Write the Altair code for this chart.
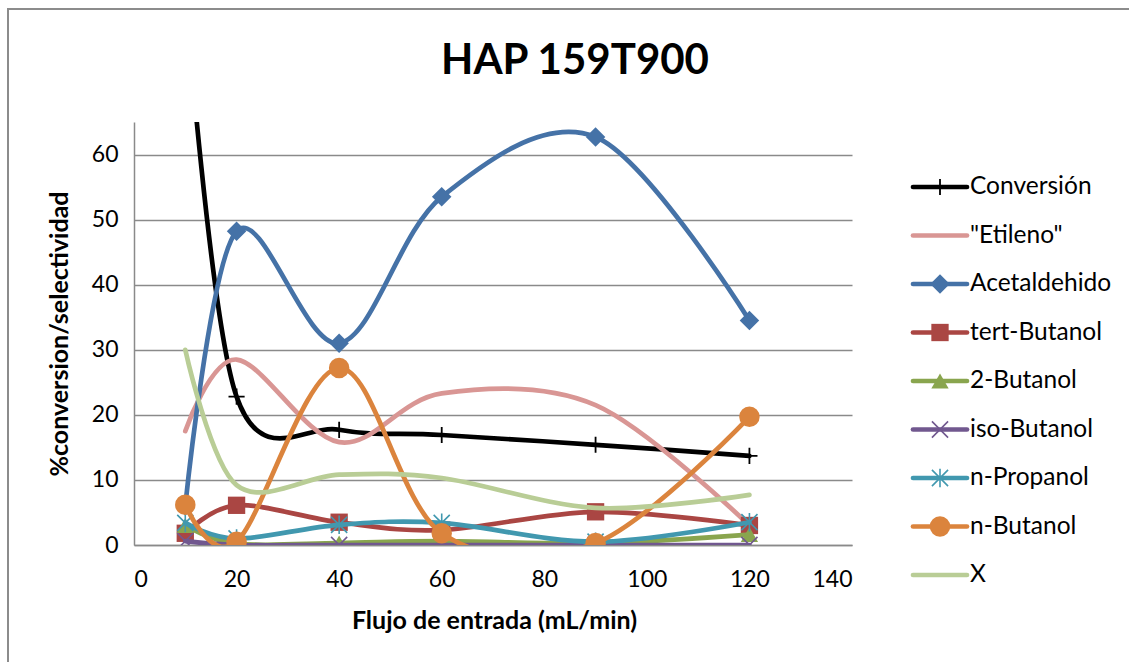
import altair as alt
import pandas as pd

# Inlet flow (mL/min) at which each sample was taken
flow = [10, 20, 40, 60, 90, 120]

series_names = [
    "Conversión", '"Etileno"', "Acetaldehido", "tert-Butanol", "2-Butanol",
    "iso-Butanol", "n-Propanol", "n-Butanol", "X",
]

# %conversion / selectivity per series
conversion = [85.0, 22.8, 17.7, 16.9, 15.4, 13.7]
etileno = [17.5, 28.5, 15.8, 23.3, 21.5, 3.0]
acetaldehido = [6.0, 48.2, 31.0, 53.5, 62.7, 34.5]
tert_butanol = [1.8, 6.1, 3.5, 2.3, 5.1, 3.0]
butanol_2 = [3.0, 0.2, 0.3, 0.6, 0.3, 1.6]
iso_butanol = [0.6, 0.0, 0.0, 0.0, 0.0, 0.0]
n_propanol = [3.4, 1.0, 3.1, 3.4, 0.5, 3.5]
n_butanol = [6.2, 0.5, 27.2, 1.8, 0.3, 19.7]
x_unknown = [30.0, 9.2, 10.8, 10.3, 5.7, 7.7]

values = [conversion, etileno, acetaldehido, tert_butanol, butanol_2,
          iso_butanol, n_propanol, n_butanol, x_unknown]

colors = ["#000000", "#D99694", "#4572A7", "#AA4643", "#89A54E",
          "#71588F", "#4198AF", "#DB843D", "#B9CD96"]

x_ticks = [0, 20, 40, 60, 80, 100, 120, 140]
y_ticks = [0, 10, 20, 30, 40, 50, 60]

# stroked marker outlines (unit box -1..1)
PLUS = "M-1,0H1M0,-1V1"
CROSS = "M-1,-1L1,1M-1,1L1,-1"
ASTERISK = "M-1,-1L1,1M-1,1L1,-1M0,-1.15V1.15"

# (shape, filled, size, strokeWidth) for each series; None = no marker
markers = [
    (PLUS, False, 260, 1.8),
    None,
    ("diamond", True, 380, 0),
    ("square", True, 300, 0),
    ("triangle-up", True, 300, 0),
    (CROSS, False, 260, 1.6),
    (ASTERISK, False, 260, 1.6),
    ("circle", True, 420, 0),
    None,
]

FONT = "Lato"
GRID = "#8A8A8A"
W, H = 718, 423
LEFT, TOP = 134, 122

x_enc = alt.X(
    "flow:Q",
    scale=alt.Scale(domain=[0, 140], nice=False, zero=False),
    axis=alt.Axis(
        values=x_ticks, grid=False, ticks=False, title="Flujo de entrada (mL/min)",
        titleX=W / 2 + 1, titleY=75, titleBaseline="middle", titleAlign="center",
        labelPadding=23,
    ),
)
y_enc = alt.Y(
    "value:Q",
    scale=alt.Scale(domain=[0, 65], nice=False),
    axis=alt.Axis(
        values=y_ticks, grid=True, ticks=False, title="%conversion/selectividad",
        titleX=-75, titleY=H / 2, titleAngle=270, titleBaseline="middle",
        titleAlign="center", labelPadding=16,
    ),
)

layers = []
for name, vals, color, mk in zip(series_names, values, colors, markers):
    df = pd.DataFrame({"flow": flow, "value": vals, "serie": name})
    base = alt.Chart(df).encode(x=x_enc, y=y_enc)
    layers.append(
        base.mark_line(interpolate="cardinal", strokeWidth=4.7, color=color,
                       clip=True, strokeCap="round", strokeJoin="round")
    )
    if mk is not None:
        shape, filled, size, sw = mk
        if filled:
            pt = base.mark_point(shape=shape, filled=True, size=size, color=color,
                                 opacity=1, clip=True)
        else:
            pt = base.mark_point(shape=shape, filled=False, size=size, color=color,
                                 strokeWidth=sw, opacity=1, clip=True)
        layers.append(pt)

data_layer = alt.layer(*layers)

# legend: one row per series, line sample + marker + label
legend_df = pd.DataFrame({"item": series_names})
ly = alt.Y("item:N", axis=None,
           scale=alt.Scale(type="point", domain=series_names, range=[65, 453], padding=0))
legend_layers = []
for name, color, mk in zip(series_names, colors, markers):
    base = alt.Chart(legend_df).transform_filter(alt.datum.item == name).encode(y=ly)
    legend_layers.append(
        base.mark_rule(strokeWidth=4.7, color=color, strokeCap="round").encode(
            x=alt.value(779), x2=alt.value(833))
    )
    if mk is not None:
        shape, filled, size, sw = mk
        if filled:
            pt = base.mark_point(shape=shape, filled=True, size=size, color=color, opacity=1)
        else:
            pt = base.mark_point(shape=shape, filled=False, size=size, color=color,
                                 strokeWidth=sw, opacity=1)
        legend_layers.append(pt.encode(x=alt.value(806)))
legend_layers.append(
    alt.Chart(legend_df).mark_text(align="left", baseline="middle", font=FONT,
                                   fontSize=24.5, color="#000000")
    .encode(y=ly, x=alt.value(836), text="item:N")
)

# chart title and outer frame
deco = alt.Chart(pd.DataFrame({"t": ["HAP 159T900"]}))
title = deco.mark_text(font=FONT, fontSize=42, fontWeight="bold", align="center",
                       baseline="middle", color="#000000").encode(
    x=alt.value(441), y=alt.value(-61), text="t:N")
frame = deco.mark_rect(fill=None, stroke="#8C8C8C", strokeWidth=2).encode(
    x=alt.value(8 - LEFT), y=alt.value(9 - TOP),
    x2=alt.value(1129 - LEFT + 20), y2=alt.value(662 - TOP + 20))

legend_layer = alt.layer(*legend_layers)

chart = (
    alt.layer(frame, data_layer, legend_layer, title)
    .resolve_scale(y="independent")
    .properties(
        width=W, height=H,
        padding={"left": LEFT, "top": TOP, "right": 1129 - LEFT - W, "bottom": 662 - TOP - H},
        autosize=alt.AutoSizeParams(type="none"),
        background="white",
    )
    .configure_view(stroke=None)
    .configure_axis(
        labelFont=FONT, labelFontSize=23, labelColor="#000000",
        titleFont=FONT, titleFontSize=25, titleFontWeight="bold", titleColor="#000000",
        domainColor=GRID, domainWidth=1.5, gridColor=GRID, gridWidth=1.5,
    )
)

chart.save("out.html", embed_options={"renderer": "svg", "actions": False})
